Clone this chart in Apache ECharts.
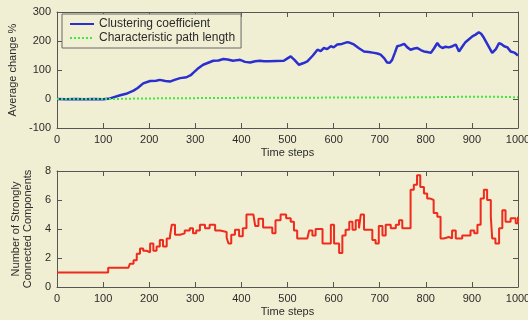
<!DOCTYPE html>
<html>
<head>
<meta charset="utf-8">
<script src="https://cdn.jsdelivr.net/npm/echarts@6/dist/echarts.min.js"></script>
<style>
  html, body { margin: 0; padding: 0; background: #f1efd3; }
  #chart { width: 528px; height: 320px; }
</style>
</head>
<body>
<div id="chart"></div>
<script>
// Clustering coefficient: average change (%) over time
const clusterSteps = [0, 20, 40, 60, 80, 100, 115, 137, 150, 166, 175, 187, 202, 215, 223, 235, 245, 255, 267, 281, 290, 296, 305, 317, 328, 339, 350, 361, 370, 382, 390, 397, 408, 419, 430, 440, 449, 460, 475, 492, 500, 507, 515, 525, 535, 543, 555, 565, 572, 579, 586, 594, 600, 608, 618, 630, 637, 644, 655, 666, 676, 688, 695, 702, 710, 716, 722, 727, 733, 738, 745, 753, 760, 767, 775, 781, 790, 796, 803, 811, 818, 825, 830, 836, 843, 850, 858, 865, 872, 879, 886, 893, 901, 908, 915, 920, 926, 935, 944, 952, 959, 965, 970, 977, 984, 992, 1000];
const clusterValues = [0, -1, 0, -1, 0, -1, 2, 13, 18, 29, 38, 54, 62, 63, 66, 62, 60, 66, 72, 75, 82, 91, 104, 118, 125, 132, 133, 138, 136, 132, 134, 135, 128, 126, 130, 132, 130, 130, 131, 132, 140, 147, 135, 118, 124, 130, 150, 170, 165, 176, 172, 182, 178, 188, 190, 196, 193, 188, 175, 164, 162, 159, 157, 153, 140, 126, 125, 135, 160, 182, 185, 190, 178, 170, 174, 176, 168, 164, 162, 159, 175, 193, 182, 176, 180, 178, 182, 188, 164, 180, 196, 205, 216, 222, 230, 225, 211, 185, 159, 172, 193, 188, 182, 178, 164, 160, 150];

// Characteristic path length: average change (%) over time
const pathSteps = [0, 50, 100, 130, 150, 200, 250, 300, 400, 500, 600, 700, 800, 850, 900, 950, 1000];
const pathValues = [0, 0, 0, 0, 1, 2, 2.5, 3, 4, 4, 5, 5, 6, 7, 8, 8, 6];

// Number of strongly connected components over time
const sccSteps = [0, 111, 155, 158, 166, 173, 180, 187, 194, 202, 209, 216, 223, 230, 238, 245, 249, 256, 267, 277, 288, 295, 302, 310, 321, 331, 343, 354, 368, 372, 378, 386, 395, 403, 411, 426, 430, 437, 447, 460, 467, 474, 485, 497, 507, 514, 521, 543, 547, 554, 561, 568, 576, 587, 594, 601, 612, 619, 626, 634, 641, 648, 655, 659, 666, 677, 684, 691, 698, 706, 713, 724, 735, 742, 749, 760, 767, 774, 781, 788, 796, 803, 810, 817, 825, 832, 839, 850, 857, 865, 879, 890, 897, 905, 912, 919, 926, 933, 941, 944, 951, 959, 966, 973, 984, 995, 1000];
const sccValues = [1, 1.33, 1.33, 1.6, 1.85, 2.3, 2.65, 2.5, 2.4, 3.0, 2.5, 2.8, 3.25, 2.8, 3.35, 3.5, 4.3, 3.6, 3.7, 3.9, 4.05, 3.7, 3.9, 4.3, 4.05, 4.3, 3.9, 3.8, 3.4, 3.0, 3.6, 3.95, 3.5, 4.05, 5.0, 5.0, 4.2, 4.7, 4.1, 4.1, 3.7, 4.6, 5.0, 4.75, 4.5, 3.9, 3.35, 3.35, 3.9, 3.55, 4.0, 4.0, 3.0, 3.0, 4.3, 3.0, 2.35, 3.55, 3.95, 4.5, 3.95, 4.6, 4.05, 5.0, 3.95, 3.95, 3.25, 3.0, 4.2, 3.55, 4.3, 4.05, 4.3, 4.6, 4.05, 4.05, 6.7, 7.05, 7.7, 6.9, 6.45, 6.1, 6.0, 5.1, 4.85, 3.35, 3.45, 3.35, 3.9, 3.35, 3.55, 3.55, 3.9, 3.7, 4.3, 6.1, 6.7, 6.0, 4.85, 3.35, 3.0, 4.05, 5.3, 4.5, 4.75, 4.4, 4.85];

const xTicks = { min: 0, max: 1000, interval: 100 };
const topY = { min: -100, max: 300, interval: 100 };
const bottomY = { min: 0, max: 8, interval: 2 };

const zip = (xs, ys) => xs.map((x, i) => [x, ys[i]]);

const FONT = 'Liberation Sans';
const AXIS_COLOR = '#555';
const TEXT_COLOR = '#2b2b2b';
const BG = '#f1efd3';

function axisBase(gridIndex, range, position, showLabels) {
  return {
    gridIndex: gridIndex,
    type: 'value',
    position: position,
    min: range.min,
    max: range.max,
    interval: range.interval,
    axisLine: { show: true, onZero: false, lineStyle: { color: AXIS_COLOR, width: 1 } },
    axisTick: { show: true, inside: true, length: 5, lineStyle: { color: AXIS_COLOR } },
    splitLine: { show: false },
    axisLabel: {
      show: showLabels, color: TEXT_COLOR, fontFamily: FONT, fontSize: 11, margin: 6,
      formatter: (v) => String(v)
    }
  };
}

const nameStyle = { color: TEXT_COLOR, fontFamily: FONT, fontSize: 11 };

const chart = echarts.init(document.getElementById('chart'), null, { renderer: 'canvas' });

chart.setOption({
  backgroundColor: BG,
  animation: false,
  grid: [
    { left: 57, right: 10, top: 12, height: 116, outerBoundsMode: 'none', containLabel: false },
    { left: 57, right: 10, top: 171, height: 116, outerBoundsMode: 'none', containLabel: false }
  ],
  legend: {
    orient: 'vertical',
    left: 62,
    top: 14,
    padding: [4, 6, 4, 7],
    itemGap: 2,
    itemWidth: 24,
    itemHeight: 12,
    borderColor: '#666',
    borderWidth: 1,
    backgroundColor: BG,
    itemStyle: { opacity: 0 },
    textStyle: { color: TEXT_COLOR, fontFamily: FONT, fontSize: 12 },
    data: ['Clustering coefficient', 'Characteristic path length']
  },
  xAxis: [
    Object.assign(axisBase(0, xTicks, 'bottom', true), {
      name: 'Time steps', nameLocation: 'middle', nameGap: 19, nameTextStyle: nameStyle
    }),
    axisBase(0, xTicks, 'top', false),
    Object.assign(axisBase(1, xTicks, 'bottom', true), {
      name: 'Time steps', nameLocation: 'middle', nameGap: 19, nameTextStyle: nameStyle
    }),
    axisBase(1, xTicks, 'top', false)
  ],
  yAxis: [
    Object.assign(axisBase(0, topY, 'left', true), {
      name: 'Average change %', nameLocation: 'middle', nameGap: 38, nameTextStyle: nameStyle
    }),
    axisBase(0, topY, 'right', false),
    Object.assign(axisBase(1, bottomY, 'left', true), {
      name: 'Number of Strongly\nConnected Components', nameLocation: 'middle', nameGap: 22,
      nameTextStyle: Object.assign({ lineHeight: 12 }, nameStyle)
    }),
    axisBase(1, bottomY, 'right', false)
  ],
  series: [
    {
      name: 'Clustering coefficient',
      type: 'line',
      xAxisIndex: 0, yAxisIndex: 0,
      symbol: 'none',
      data: zip(clusterSteps, clusterValues),
      lineStyle: { color: '#2b2fd0', width: 2.5 },
      itemStyle: { color: '#2b2fd0' }
    },
    {
      name: 'Characteristic path length',
      type: 'line',
      xAxisIndex: 0, yAxisIndex: 0,
      symbol: 'none',
      data: zip(pathSteps, pathValues),
      lineStyle: { color: '#3ee83e', width: 2, type: [2, 2] },
      itemStyle: { color: '#3ee83e' }
    },
    {
      name: 'Strongly connected components',
      type: 'line',
      xAxisIndex: 2, yAxisIndex: 2,
      symbol: 'none',
      step: 'end',
      data: zip(sccSteps, sccValues),
      lineStyle: { color: '#ee2b1c', width: 2 },
      itemStyle: { color: '#ee2b1c' }
    }
  ]
});
</script>
</body>
</html>
